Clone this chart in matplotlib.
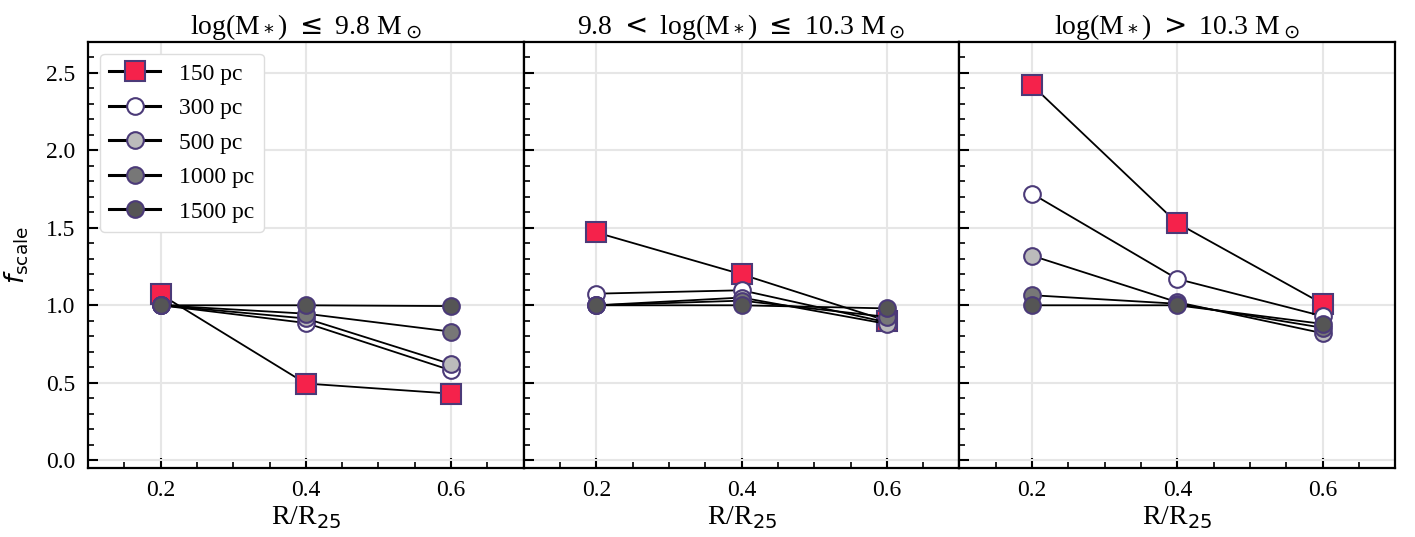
import numpy as np
import matplotlib.pyplot as plt

plt.rcParams['font.family'] = ['Liberation Serif', 'DejaVu Serif']
plt.rcParams['mathtext.fontset'] = 'dejavusans'

radius = [0.2, 0.4, 0.6]
scales = ['150 pc', '300 pc', '500 pc', '1000 pc', '1500 pc']
titles = [r'log(M$_*$) $\leq$ 9.8 M$_\odot$',
          r'9.8 $<$ log(M$_*$) $\leq$ 10.3 M$_\odot$',
          r'log(M$_*$) $>$ 10.3 M$_\odot$']

# f_scale per mass bin, one row per resolution
low_mass = [[1.07, 0.495, 0.43],
            [1.0, 0.886, 0.58],
            [1.0, 0.915, 0.62],
            [1.0, 0.946, 0.83],
            [1.0, 1.0, 0.995]]
mid_mass = [[1.47, 1.20, 0.90],
            [1.075, 1.097, 0.89],
            [1.0, 1.05, 0.88],
            [1.0, 1.03, 0.925],
            [1.0, 1.0, 0.98]]
high_mass = [[2.42, 1.53, 1.01],
             [1.72, 1.17, 0.93],
             [1.32, 1.02, 0.82],
             [1.065, 1.01, 0.855],
             [1.0, 1.0, 0.88]]

markers = ['s', 'o', 'o', 'o', 'o']
sizes = [15, 12, 12, 12, 12]
face_colors = ['#f5224b', 'white', '#bbbbbb', '#777777', '#555555']
edge_color = '#4b3a78'


def style_axis(ax):
    ax.set_xlim(0.1, 0.7)
    ax.set_ylim(-0.05, 2.7)
    ax.set_xticks([0.2, 0.4, 0.6])
    ax.set_xticks(np.arange(0.15, 0.70, 0.05), minor=True)
    ax.set_yticks(np.arange(0, 2.51, 0.5))
    ax.set_yticks(np.arange(0, 2.71, 0.1), minor=True)
    ax.tick_params(which='both', direction='in', top=False, right=False, labelsize=17)
    ax.tick_params(which='major', length=7, width=1.5, pad=9)
    ax.tick_params(which='minor', length=4, width=1.2)
    ax.grid(True, which='major', color='#e6e6e6', lw=1.5)
    ax.set_axisbelow(True)
    for sp in ax.spines.values():
        sp.set_linewidth(1.6)


fig, axes = plt.subplots(1, 3, figsize=(14.15, 5.37), dpi=100, sharey=True)
fig.subplots_adjust(left=0.0622, right=0.986, top=0.922, bottom=0.1285, wspace=0)

for ax, data, title in zip(axes, [low_mass, mid_mass, high_mass], titles):
    for i, label in enumerate(scales):
        ax.plot(radius, data[i], color='black', lw=1.3, marker=markers[i], ms=sizes[i],
                mfc=face_colors[i], mec=edge_color, mew=1.5, label=label)
    style_axis(ax)
    ax.set_title(title, fontsize=20, pad=5)
    ax.set_xlabel(r'R/R$_{25}$', fontsize=20, labelpad=2)

axes[0].set_ylabel(r'$f_{\rm scale}$', fontsize=19, labelpad=11)
for ax in axes[1:]:
    ax.tick_params(labelleft=False)

leg = axes[0].legend(loc='upper left', fontsize=17, handlelength=2.15, framealpha=1,
                     edgecolor='#dddddd', fancybox=True, labelspacing=0.55)
for line in leg.get_lines():
    line.set_linewidth(2.2)

fig.savefig('out.png', dpi=100)
